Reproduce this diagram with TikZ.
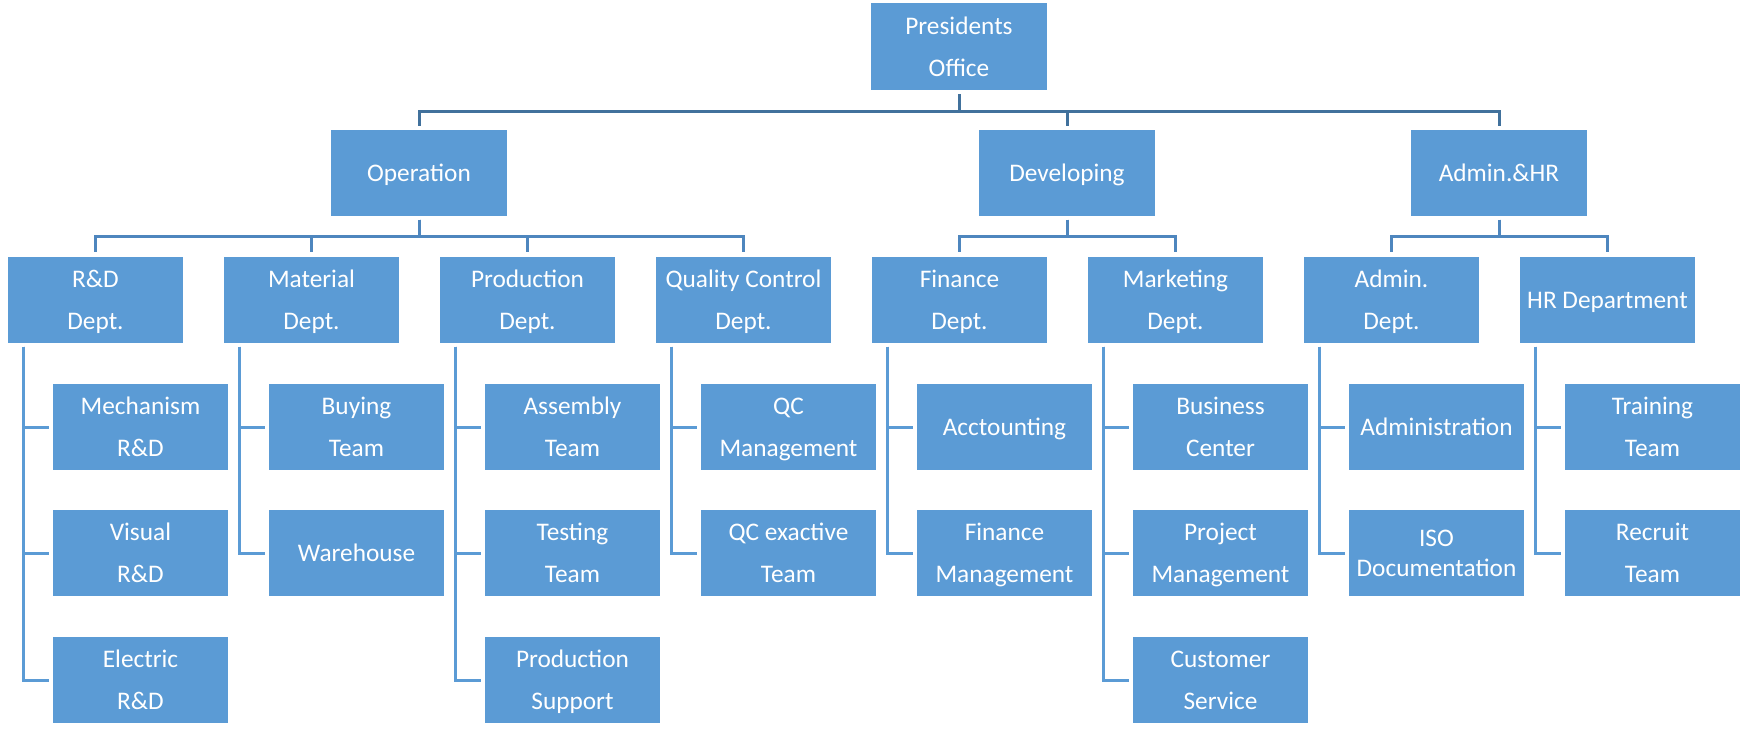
\documentclass[tikz,border=0pt]{standalone}
\usepackage{fontspec}
\setmainfont{Carlito}
\usetikzlibrary{positioning}
\definecolor{boxblue}{HTML}{5B9BD5}
\definecolor{darkline}{HTML}{41719C}
\definecolor{midline}{HTML}{4E86BE}

\tikzset{
  unit/.style={fill=boxblue, text=white, minimum width=1.75cm, minimum height=0.86cm,
    inner sep=0pt, text depth=0pt, align=center, font=\fontsize{7.2}{12}\selectfont},
  toplink/.style={line width=0.3mm, darkline},
  midlink/.style={line width=0.3mm, midline},
  sublink/.style={line width=0.3mm, boxblue}
}

\begin{document}
\begin{tikzpicture}[x=0.01cm, y=-0.01cm]
  \useasboundingbox (0,0) rectangle (1753,744);

  % Top
  \node[unit] (pres) at (959,46.5) {Presidents\\Office};

  % Divisions
  \node[unit] (op) at (419,173) {Operation};
  \node[unit] (dev) at (1067,173) {Developing};
  \node[unit] (ahr) at (1499,173) {Admin.\&HR};

  % Departments
  \node[unit] (rd) at (95.5,300) {R\&D\\Dept.};
  \node[unit] (mat) at (311.5,300) {Material\\Dept.};
  \node[unit] (prod) at (527.5,300) {Production\\Dept.};
  \node[unit] (qc) at (743.5,300) {Quality Control\\Dept.};
  \node[unit] (fin) at (959.5,300) {Finance\\Dept.};
  \node[unit] (mkt) at (1175.5,300) {Marketing\\Dept.};
  \node[unit] (admd) at (1391.5,300) {Admin.\\Dept.};
  \node[unit] (hr) at (1607.5,300) {HR Department};

  % Teams
  \node[unit] (mech) at (140.5,427) {Mechanism\\R\&D};
  \node[unit] (vis) at (140.5,553) {Visual\\R\&D};
  \node[unit] (elec) at (140.5,680) {Electric\\R\&D};
  \node[unit] (buy) at (356.5,427) {Buying\\Team};
  \node[unit] (ware) at (356.5,553) {Warehouse};
  \node[unit] (asm) at (572.5,427) {Assembly\\Team};
  \node[unit] (test) at (572.5,553) {Testing\\Team};
  \node[unit] (psup) at (572.5,680) {Production\\Support};
  \node[unit] (qcm) at (788.5,427) {QC\\Management};
  \node[unit] (qce) at (788.5,553) {QC exactive\\Team};
  \node[unit] (acc) at (1004.5,427) {Acctounting};
  \node[unit] (finm) at (1004.5,553) {Finance\\Management};
  \node[unit] (bus) at (1220.5,427) {Business\\Center};
  \node[unit] (proj) at (1220.5,553) {Project\\Management};
  \node[unit] (cust) at (1220.5,680) {Customer\\Service};
  \node[unit] (admin) at (1436.5,427) {Administration};
  \node[unit, font=\fontsize{7.2}{8.5}\selectfont] (iso) at (1436.5,553) {ISO\\Documentation};
  \node[unit] (train) at (1652.5,427) {Training\\Team};
  \node[unit] (recr) at (1652.5,553) {Recruit\\Team};

  % Office -> divisions
  \draw[toplink] ([yshift=-0.4mm]pres.south) -- ++(0,17) -| ([yshift=0.3mm]op.north);
  \draw[toplink] ([yshift=-0.4mm]pres.south) -- ++(0,17) -| ([yshift=0.3mm]dev.north);
  \draw[toplink] ([yshift=-0.4mm]pres.south) -- ++(0,17) -| ([yshift=0.3mm]ahr.north);

  % Divisions -> departments
  \draw[midlink] ([yshift=-0.3mm]op.south) -- ++(0,17) -| ([yshift=0.4mm]rd.north);
  \draw[midlink] ([yshift=-0.3mm]op.south) -- ++(0,17) -| ([yshift=0.4mm]mat.north);
  \draw[midlink] ([yshift=-0.3mm]op.south) -- ++(0,17) -| ([yshift=0.4mm]prod.north);
  \draw[midlink] ([yshift=-0.3mm]op.south) -- ++(0,17) -| ([yshift=0.4mm]qc.north);
  \draw[midlink] ([yshift=-0.3mm]dev.south) -- ++(0,17) -| ([yshift=0.4mm]fin.north);
  \draw[midlink] ([yshift=-0.3mm]dev.south) -- ++(0,17) -| ([yshift=0.4mm]mkt.north);
  \draw[midlink] ([yshift=-0.3mm]ahr.south) -- ++(0,17) -| ([yshift=0.4mm]admd.north);
  \draw[midlink] ([yshift=-0.3mm]ahr.south) -- ++(0,17) -| ([yshift=0.4mm]hr.north);

  % Departments -> teams
  \draw[sublink] ([xshift=1.6mm,yshift=-0.3mm]rd.south west) |- ([xshift=-0.3mm]mech.west);
  \draw[sublink] ([xshift=1.6mm,yshift=-0.3mm]rd.south west) |- ([xshift=-0.3mm]vis.west);
  \draw[sublink] ([xshift=1.6mm,yshift=-0.3mm]rd.south west) |- ([xshift=-0.3mm]elec.west);
  \draw[sublink] ([xshift=1.6mm,yshift=-0.3mm]mat.south west) |- ([xshift=-0.3mm]buy.west);
  \draw[sublink] ([xshift=1.6mm,yshift=-0.3mm]mat.south west) |- ([xshift=-0.3mm]ware.west);
  \draw[sublink] ([xshift=1.6mm,yshift=-0.3mm]prod.south west) |- ([xshift=-0.3mm]asm.west);
  \draw[sublink] ([xshift=1.6mm,yshift=-0.3mm]prod.south west) |- ([xshift=-0.3mm]test.west);
  \draw[sublink] ([xshift=1.6mm,yshift=-0.3mm]prod.south west) |- ([xshift=-0.3mm]psup.west);
  \draw[sublink] ([xshift=1.6mm,yshift=-0.3mm]qc.south west) |- ([xshift=-0.3mm]qcm.west);
  \draw[sublink] ([xshift=1.6mm,yshift=-0.3mm]qc.south west) |- ([xshift=-0.3mm]qce.west);
  \draw[sublink] ([xshift=1.6mm,yshift=-0.3mm]fin.south west) |- ([xshift=-0.3mm]acc.west);
  \draw[sublink] ([xshift=1.6mm,yshift=-0.3mm]fin.south west) |- ([xshift=-0.3mm]finm.west);
  \draw[sublink] ([xshift=1.6mm,yshift=-0.3mm]mkt.south west) |- ([xshift=-0.3mm]bus.west);
  \draw[sublink] ([xshift=1.6mm,yshift=-0.3mm]mkt.south west) |- ([xshift=-0.3mm]proj.west);
  \draw[sublink] ([xshift=1.6mm,yshift=-0.3mm]mkt.south west) |- ([xshift=-0.3mm]cust.west);
  \draw[sublink] ([xshift=1.6mm,yshift=-0.3mm]admd.south west) |- ([xshift=-0.3mm]admin.west);
  \draw[sublink] ([xshift=1.6mm,yshift=-0.3mm]admd.south west) |- ([xshift=-0.3mm]iso.west);
  \draw[sublink] ([xshift=1.6mm,yshift=-0.3mm]hr.south west) |- ([xshift=-0.3mm]train.west);
  \draw[sublink] ([xshift=1.6mm,yshift=-0.3mm]hr.south west) |- ([xshift=-0.3mm]recr.west);
\end{tikzpicture}
\end{document}
